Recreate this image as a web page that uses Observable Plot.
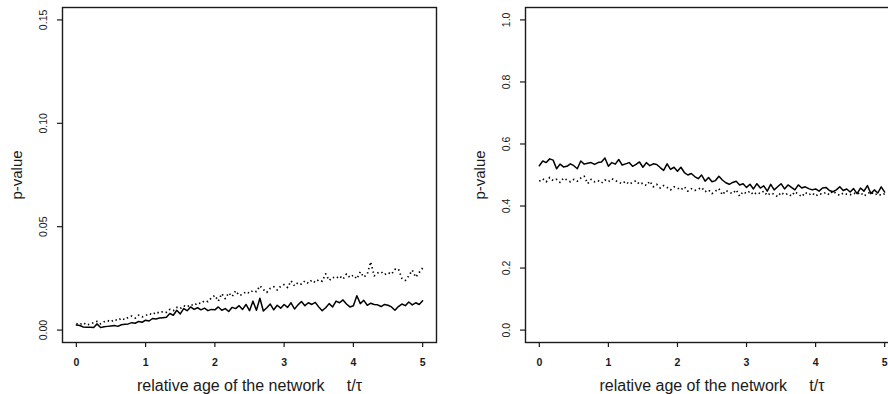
<!DOCTYPE html>
<html>
<head>
<meta charset="utf-8">
<script src="https://cdn.jsdelivr.net/npm/d3@7"></script>
<script src="https://cdn.jsdelivr.net/npm/@observablehq/plot@0.6"></script>
<style>
  html, body { margin: 0; padding: 0; background: white; overflow: hidden; width: 888px; height: 394px; }
  #wrap { display: flex; flex-direction: row; width: 900px; }
  #wrap svg { flex: none; }
</style>
</head>
<body>
<div id="wrap"></div>
<script>
// time axis: relative age of the network t/tau, step 0.05 from 0 to 5
const tValues = d3.range(0, 101).map(i => +(i * 0.05).toFixed(2));
const xTicks = [0, 1, 2, 3, 4, 5];

// left panel
const leftYTicks = [0, 0.05, 0.10, 0.15];
const leftSolid = [
  0.0025,0.0022,0.0015,0.0014,0.0014,0.0013,0.0030,0.0012,0.0016,0.0018,
  0.0020,0.0022,0.0018,0.0026,0.0028,0.0030,0.0036,0.0033,0.0042,0.0038,
  0.0048,0.0044,0.0056,0.0054,0.0058,0.0060,0.0062,0.0080,0.0072,0.0096,
  0.0078,0.0104,0.0094,0.0112,0.0100,0.0108,0.0098,0.0106,0.0094,0.0100,
  0.0098,0.0112,0.0096,0.0104,0.0090,0.0110,0.0104,0.0118,0.0100,0.0124,
  0.0094,0.0140,0.0096,0.0154,0.0092,0.0108,0.0126,0.0098,0.0120,0.0106,
  0.0124,0.0110,0.0132,0.0102,0.0122,0.0138,0.0118,0.0132,0.0124,0.0134,
  0.0112,0.0094,0.0108,0.0128,0.0112,0.0140,0.0132,0.0146,0.0126,0.0112,
  0.0118,0.0166,0.0128,0.0144,0.0120,0.0130,0.0124,0.0122,0.0114,0.0124,
  0.0120,0.0112,0.0096,0.0114,0.0126,0.0118,0.0136,0.0122,0.0132,0.0124,
  0.0142
];
const leftDotted = [
  0.0032,0.0026,0.0036,0.0024,0.0030,0.0036,0.0042,0.0030,0.0040,0.0046,
  0.0040,0.0052,0.0046,0.0058,0.0050,0.0062,0.0068,0.0058,0.0072,0.0064,
  0.0070,0.0080,0.0074,0.0088,0.0082,0.0090,0.0086,0.0100,0.0094,0.0110,
  0.0104,0.0118,0.0112,0.0124,0.0118,0.0132,0.0128,0.0142,0.0138,0.0156,
  0.0168,0.0140,0.0176,0.0152,0.0180,0.0162,0.0190,0.0168,0.0172,0.0186,
  0.0178,0.0192,0.0186,0.0214,0.0196,0.0182,0.0202,0.0210,0.0194,0.0212,
  0.0220,0.0206,0.0238,0.0214,0.0230,0.0222,0.0238,0.0226,0.0242,0.0230,
  0.0244,0.0236,0.0272,0.0240,0.0256,0.0250,0.0262,0.0246,0.0272,0.0254,
  0.0266,0.0248,0.0282,0.0256,0.0270,0.0330,0.0262,0.0276,0.0282,0.0268,
  0.0278,0.0270,0.0294,0.0296,0.0250,0.0240,0.0262,0.0290,0.0256,0.0278,
  0.0300
];

// right panel
const rightYTicks = [0, 0.2, 0.4, 0.6, 0.8, 1.0];
const rightSolid = [
  0.530,0.545,0.540,0.552,0.548,0.520,0.535,0.526,0.528,0.536,
  0.530,0.520,0.545,0.535,0.538,0.540,0.534,0.540,0.542,0.555,
  0.528,0.540,0.535,0.550,0.532,0.536,0.540,0.528,0.534,0.542,
  0.525,0.540,0.530,0.536,0.534,0.524,0.515,0.536,0.518,0.525,
  0.512,0.525,0.508,0.500,0.505,0.495,0.488,0.500,0.480,0.492,
  0.478,0.482,0.496,0.484,0.475,0.470,0.476,0.480,0.468,0.472,
  0.460,0.470,0.455,0.472,0.458,0.465,0.448,0.470,0.452,0.462,
  0.472,0.455,0.468,0.460,0.452,0.468,0.458,0.462,0.456,0.452,
  0.455,0.448,0.458,0.460,0.450,0.446,0.452,0.462,0.450,0.455,
  0.445,0.456,0.440,0.458,0.448,0.466,0.440,0.452,0.442,0.462,
  0.445
];
const rightDotted = [
  0.480,0.488,0.478,0.492,0.482,0.486,0.476,0.490,0.484,0.478,
  0.486,0.480,0.490,0.496,0.472,0.486,0.478,0.482,0.474,0.484,
  0.478,0.488,0.482,0.476,0.472,0.480,0.470,0.476,0.482,0.470,
  0.474,0.466,0.480,0.462,0.470,0.458,0.466,0.460,0.452,0.462,
  0.458,0.452,0.462,0.448,0.456,0.450,0.454,0.460,0.446,0.452,
  0.440,0.448,0.456,0.436,0.450,0.444,0.440,0.452,0.432,0.446,
  0.440,0.448,0.436,0.444,0.440,0.448,0.434,0.442,0.438,0.430,
  0.444,0.436,0.440,0.432,0.446,0.438,0.430,0.444,0.436,0.442,
  0.432,0.440,0.438,0.444,0.436,0.448,0.440,0.434,0.442,0.438,
  0.436,0.442,0.438,0.444,0.432,0.440,0.446,0.436,0.440,0.434,
  0.440
];

const yTitle = "p-value";
const xTitle = "relative age of the network\u00a0\u00a0\u00a0\u00a0\u00a0t/\u03c4";

const FONT = "'Liberation Sans', Arial, Helvetica, sans-serif";
const INK = "#1a1a1a";

function panel({ width, marginLeft, marginRight, yTicks, yFmt, solid, dotted }) {
  const lo = yTicks[0], hi = yTicks[yTicks.length - 1];
  const pad = (hi - lo) * 0.04;
  const solidData = tValues.map((t, i) => ({ t, v: solid[i] }));
  const dottedData = tValues.map((t, i) => ({ t, v: dotted[i] }));
  return Plot.plot({
    width,
    height: 394,
    marginLeft,
    marginRight,
    marginTop: 7,
    marginBottom: 52,
    style: { fontFamily: FONT, background: "white", color: INK },
    x: { domain: [-0.2, 5.2] },
    y: { domain: [lo - pad, hi + pad] },
    marks: [
      Plot.line(dottedData, { x: "t", y: "v", stroke: "black", strokeWidth: 1.7, strokeDasharray: "1.4,3", strokeLinecap: "butt" }),
      Plot.line(solidData, { x: "t", y: "v", stroke: "black", strokeWidth: 1.5 }),
      Plot.frame({ stroke: INK, strokeWidth: 1.4 }),
      Plot.axisX({ ticks: xTicks, tickSize: 5, tickPadding: 11, tickFormat: d => String(d), fontSize: 10.5, fontWeight: "bold", label: null, stroke: INK, strokeWidth: 1.2 }),
      Plot.axisY({ ticks: yTicks, tickSize: 5, tickFormat: () => "", label: null, stroke: INK, strokeWidth: 1.2 }),
      Plot.text(yTicks, { y: d => d, frameAnchor: "left", dx: -19, rotate: -90, text: yFmt, fontSize: 10.5, textAnchor: "middle", lineAnchor: "middle", fill: INK }),
      Plot.text([yTitle], { frameAnchor: "left", dx: -45, rotate: -90, text: d => d, fontSize: 15, textAnchor: "middle", lineAnchor: "middle", fill: INK }),
      Plot.text([xTitle], { frameAnchor: "bottom", dy: 43, text: d => d, fontSize: 16, textAnchor: "middle", lineAnchor: "middle", fill: INK })
    ]
  });
}

const wrap = document.getElementById("wrap");
wrap.appendChild(panel({
  width: 444, marginLeft: 62, marginRight: 8,
  yTicks: leftYTicks, yFmt: d => d3.format(".2f")(d),
  solid: leftSolid, dotted: leftDotted
}));
wrap.appendChild(panel({
  width: 454, marginLeft: 81, marginRight: 0,
  yTicks: rightYTicks, yFmt: d => d3.format(".1f")(d),
  solid: rightSolid, dotted: rightDotted
}));
</script>
</body>
</html>
